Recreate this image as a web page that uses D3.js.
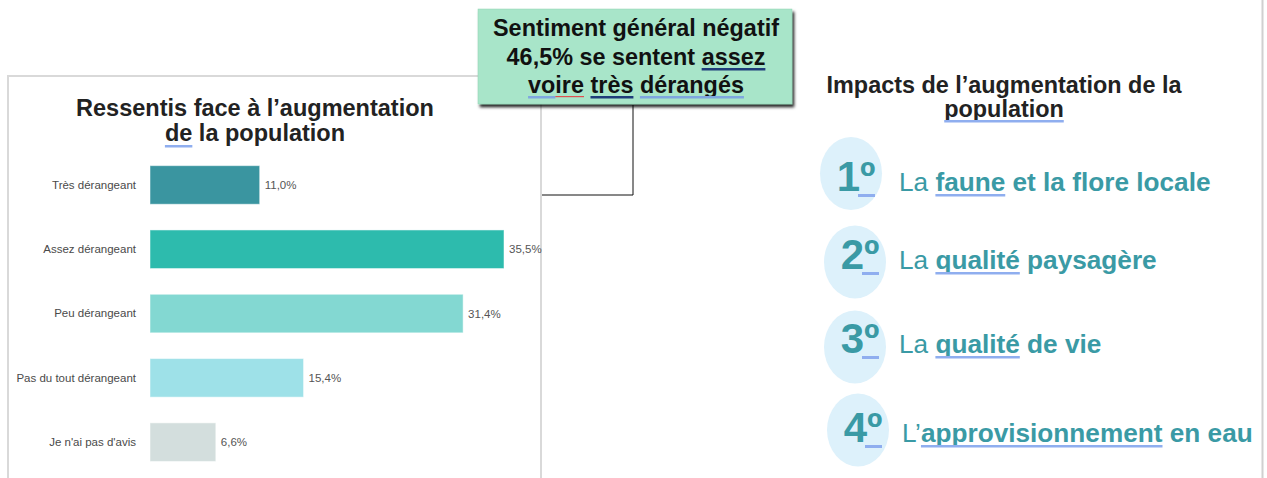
<!DOCTYPE html>
<html>
<head>
<meta charset="utf-8">
<script src="https://cdn.jsdelivr.net/npm/d3@7"></script>
<style>
  body { margin: 0; background: #fff; }
  svg { display: block; font-family: "Liberation Sans", Arial, sans-serif; }
</style>
</head>
<body>
<svg id="chart" width="1267" height="478"></svg>
<script>
// bar chart data
const categories = ['Très dérangeant', 'Assez dérangeant', 'Peu dérangeant', 'Pas du tout dérangeant', "Je n'ai pas d'avis"]
const values = [11.0, 35.5, 31.4, 15.4, 6.6]
const valueLabels = ['11,0%', '35,5%', '31,4%', '15,4%', '6,6%']
const barColors = ['#3A95A0', '#2DBBAD', '#83D8D2', '#9EE1E8', '#D3DEDD']

// impacts ranking
const ranks = ['1º', '2º', '3º', '4º']
const impactLead = ['La ', 'La ', 'La ', 'L’']
const impactKey = ['faune', 'qualité', 'qualité', 'approvisionnement']
const impactRest = [' et la flore locale', ' paysagère', ' de vie', ' en eau']

const svg = d3.select('#chart')
const teal = '#3A9AA5'
const blueLine = '#8FAEEF'

const defs = svg.append('defs')
defs.append('filter').attr('id', 'shadow')
  .attr('x', '-10%').attr('y', '-10%').attr('width', '130%').attr('height', '140%')
  .append('feDropShadow')
  .attr('dx', 2).attr('dy', 3).attr('stdDeviation', 1.5)
  .attr('flood-color', '#000').attr('flood-opacity', 0.85)

// panel borders
svg.append('path')
  .attr('d', 'M8,478 V76 H541 V478')
  .attr('fill', 'none').attr('stroke', '#d9d9d9').attr('stroke-width', 2)
svg.append('line')
  .attr('x1', 1262.5).attr('x2', 1262.5).attr('y1', 0).attr('y2', 478)
  .attr('stroke', '#d0d0d0').attr('stroke-width', 2)

// draws text made of segments, underlining some of them after layout
function richText(g, x, y, segs, opts) {
  const t = g.append('text')
    .attr('x', x).attr('y', y)
    .attr('text-anchor', opts.anchor || 'start')
    .attr('font-size', opts.size)
    .attr('fill', opts.color)
  const spans = segs.map(s => t.append('tspan')
    .attr('font-weight', s.w || opts.weight || 'normal')
    .text(s.t))
  segs.forEach((s, i) => {
    if (!s.u) return
    const node = spans[i].node()
    const x0 = node.getStartPositionOfChar(0).x
    const w = node.getComputedTextLength()
    g.append('rect')
      .attr('x', x0).attr('y', y + (s.dy || 4))
      .attr('width', w).attr('height', s.h || 2.5)
      .attr('fill', s.u)
  })
  return t
}

// left title
const left = svg.append('g')
const titleFont = { anchor: 'middle', size: 23.5, weight: 'bold', color: '#222' }
richText(left, 255, 116, [{ t: 'Ressentis face à l’augmentation' }], titleFont)
richText(left, 255, 141, [{ t: 'de', u: blueLine }, { t: ' la population' }], titleFont)

// bars
const x = d3.scaleLinear().domain([0, 35.5]).range([150, 504])
const y = d3.scaleBand().domain(categories).range([152.8, 474.3])
  .paddingInner(0.4).paddingOuter(0.2)

left.append('g')
  .attr('transform', 'translate(136,0)')
  .call(d3.axisLeft(y).tickSize(0).tickPadding(0))
  .call(g => g.select('.domain').remove())
  .call(g => g.selectAll('text')
    .attr('font-family', '"Liberation Sans", Arial, sans-serif')
    .attr('font-size', 11.5).attr('fill', '#4a4a4a'))

left.selectAll('rect.bar')
  .data(values)
  .join('rect')
  .attr('class', 'bar')
  .attr('x', x(0))
  .attr('y', (d, i) => y(categories[i]))
  .attr('width', d => x(d) - x(0))
  .attr('height', y.bandwidth())
  .attr('fill', (d, i) => barColors[i])
  .attr('stroke', 'rgba(255,255,255,0.5)')

left.selectAll('text.val')
  .data(values)
  .join('text')
  .attr('class', 'val')
  .attr('x', d => x(d) + 5)
  .attr('y', (d, i) => y(categories[i]) + y.bandwidth() / 2 + 4)
  .attr('font-size', 11.5).attr('fill', '#555')
  .text((d, i) => valueLabels[i])

// callout
const call = svg.append('g')
call.append('path')
  .attr('d', 'M633,105 V195 H542')
  .attr('fill', 'none').attr('stroke', '#111').attr('stroke-width', 1)
call.append('rect')
  .attr('x', 478).attr('y', 9).attr('width', 314).attr('height', 95)
  .attr('fill', '#A8E5C9').attr('stroke', '#8fd3b3').attr('stroke-width', 0.5)
  .attr('filter', 'url(#shadow)')
const boxFont = { anchor: 'middle', size: 23.4, weight: 'bold', color: '#111' }
richText(call, 636, 36, [{ t: 'Sentiment général négatif' }], boxFont)
richText(call, 636, 65, [{ t: '46,5% se sentent ' }, { t: 'assez', u: '#1F3C7A', dy: 3 }], boxFont)
richText(call, 636, 93, [{ t: 'vo', u: '#7FA7E0', dy: 3 }, { t: 'ire', u: '#E05050', h: 1.2, dy: 3 }, { t: ' ' },
  { t: 'très', u: '#1F3C7A', dy: 3 }, { t: ' ' }, { t: 'dérangés', u: '#7FA7E0', dy: 3 }], boxFont)

// right: impacts
const right = svg.append('g')
const rightTitle = { anchor: 'middle', size: 23.4, weight: 'bold', color: '#222' }
richText(right, 1004, 93, [{ t: 'Impacts de l’augmentation de la' }], rightTitle)
richText(right, 1004, 117, [{ t: 'population', u: blueLine, dy: 3 }], rightTitle)

// row layout: text baseline, badge centre
const rowBase = [191, 269, 353, 442]
const badgeX = [851, 855, 855, 858]
const badgeY = [173.5, 262, 347, 430]

ranks.forEach((r, i) => {
  const cy = rowBase[i]
  right.append('ellipse')
    .attr('cx', badgeX[i]).attr('cy', badgeY[i])
    .attr('rx', 31).attr('ry', 36.5)
    .attr('fill', '#DDF1FB')
  right.append('text')
    .attr('x', badgeX[i] + 5).attr('y', cy)
    .attr('text-anchor', 'middle')
    .attr('font-size', 42).attr('font-weight', 'bold').attr('fill', teal)
    .text(r)
  right.append('rect')
    .attr('x', badgeX[i] + 7).attr('y', cy + 3)
    .attr('width', 17).attr('height', 3)
    .attr('fill', blueLine)
  richText(right, i === 3 ? 902 : 899, cy, [
    { t: impactLead[i], w: 'normal' },
    { t: impactKey[i], u: blueLine, w: 'bold', dy: 3 },
    { t: impactRest[i], w: 'bold' }
  ], { size: 26.2, color: teal })
})
</script>
</body>
</html>
